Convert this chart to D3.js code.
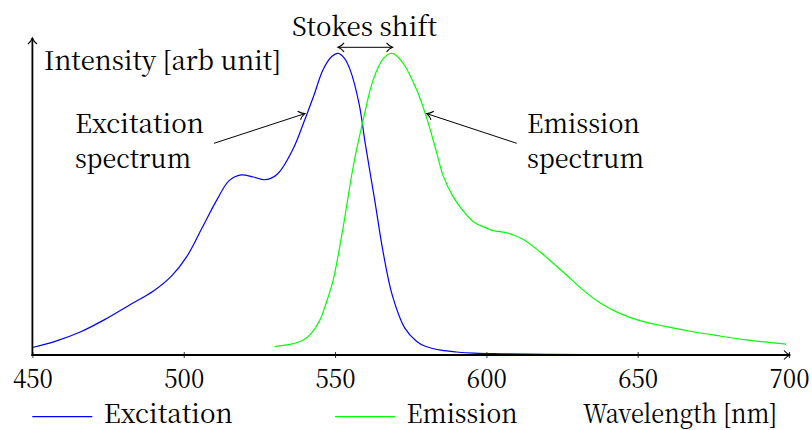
<!DOCTYPE html>
<html>
<head>
<meta charset="utf-8">
<script src="https://cdn.jsdelivr.net/npm/d3@7"></script>
<style>
  html, body { margin: 0; padding: 0; background: #fff; }
  svg { display: block; }
</style>
</head>
<body>
<svg id="chart" width="812" height="430"></svg>
<script>
// Excitation spectrum (normalised intensity vs wavelength in nm)
const excitationWl  = [450, 458, 466, 474, 482, 490, 496, 501, 506, 511, 515, 519, 523, 527, 531, 536, 540, 543, 546, 549, 551, 553, 555, 558, 560, 563, 566, 569, 573, 577, 580, 585, 590, 596, 605, 620, 650];
const excitationVal = [0.025, 0.047, 0.077, 0.118, 0.165, 0.212, 0.262, 0.326, 0.420, 0.515, 0.578, 0.597, 0.590, 0.581, 0.600, 0.680, 0.780, 0.860, 0.945, 0.990, 1.000, 0.985, 0.945, 0.830, 0.700, 0.520, 0.335, 0.195, 0.090, 0.045, 0.028, 0.016, 0.010, 0.006, 0.004, 0.002, 0.001];

// Emission spectrum
const emissionWl  = [530, 535, 539.5, 542, 545, 547, 549.4, 552.7, 556, 559.3, 562.6, 566, 569, 572.5, 577, 580.3, 583.6, 585.8, 589, 592.4, 595.7, 599, 602.3, 606.7, 612.2, 617.7, 622.1, 626.5, 632, 637.5, 644.1, 650.7, 659.5, 668.3, 677.2, 686, 699];
const emissionVal = [0.028, 0.035, 0.050, 0.070, 0.116, 0.170, 0.249, 0.425, 0.624, 0.779, 0.912, 0.983, 1.000, 0.967, 0.878, 0.785, 0.670, 0.592, 0.525, 0.477, 0.442, 0.425, 0.412, 0.405, 0.383, 0.342, 0.304, 0.265, 0.215, 0.173, 0.138, 0.114, 0.094, 0.077, 0.063, 0.050, 0.036];

const xTicks = [450, 500, 550, 600, 650, 700];
const peakExcitation = 551;
const peakEmission = 569;

const FONT = '"Noto Serif CJK SC", "Liberation Serif", serif';
const FONT_SIZE = 26;

const svg = d3.select("#chart");

const x = d3.scaleLinear().domain([450, 700]).range([32.4, 789]);
const y = d3.scaleLinear().domain([0, 1]).range([355, 53.3]);

// Open "to"-style arrow heads
const defs = svg.append("defs");
function arrowMarker(id, orient) {
  defs.append("marker")
    .attr("id", id)
    .attr("viewBox", "-8 -6 10 12")
    .attr("refX", 0).attr("refY", 0)
    .attr("markerWidth", 10).attr("markerHeight", 12)
    .attr("markerUnits", "userSpaceOnUse")
    .attr("orient", orient)
    .append("path")
    .attr("d", "M-6,-4.5 C-4,-2 -1.5,-0.6 0,0 C-1.5,0.6 -4,2 -6,4.5")
    .attr("fill", "none").attr("stroke", "#000").attr("stroke-width", 1.1);
}
arrowMarker("arr", "auto");
arrowMarker("arrStart", "auto-start-reverse");

// Text helper: serif label at a fixed rendered width
function label(xp, yp, str, w) {
  return svg.append("text")
    .attr("x", xp).attr("y", yp)
    .style("font-family", FONT).style("font-size", FONT_SIZE + "px").style("fill", "#000")
    .attr("textLength", w).attr("lengthAdjust", "spacingAndGlyphs")
    .text(str);
}

// Curves
const line = d3.line().x(d => x(d[0])).y(d => y(d[1])).curve(d3.curveCatmullRom.alpha(0.5));
svg.append("path")
  .datum(excitationWl.map((w, i) => [w, excitationVal[i]]))
  .attr("d", line).attr("fill", "none").attr("stroke", "#0000ff").attr("stroke-width", 1.2);
svg.append("path")
  .datum(emissionWl.map((w, i) => [w, emissionVal[i]]))
  .attr("d", line).attr("fill", "none").attr("stroke", "#00ff00").attr("stroke-width", 1.2);

// x axis
const xAxis = svg.append("g")
  .attr("transform", `translate(0,${y(0)})`)
  .call(d3.axisBottom(x).tickValues(xTicks).tickSize(3).tickFormat(d3.format("d")));
xAxis.select(".domain").remove();
xAxis.selectAll(".tick line").attr("y1", -3).attr("y2", 3).attr("stroke", "#000").attr("stroke-width", 0.8);
xAxis.selectAll(".tick text")
  .style("font-family", FONT).style("font-size", FONT_SIZE + "px").style("fill", "#000")
  .attr("dy", null).attr("y", 33)
  .attr("textLength", 40).attr("lengthAdjust", "spacingAndGlyphs");

svg.append("line")
  .attr("x1", x(450) - 1).attr("x2", x(700) + 1)
  .attr("y1", y(0)).attr("y2", y(0))
  .attr("stroke", "#000").attr("stroke-width", 1.8)
  .attr("marker-end", "url(#arr)");

// y axis
svg.append("line")
  .attr("x1", x(450)).attr("x2", x(450))
  .attr("y1", y(0) + 1).attr("y2", 38)
  .attr("stroke", "#000").attr("stroke-width", 1.8)
  .attr("marker-end", "url(#arr)");

// Axis labels
label(44, 70, "Intensity [arb unit]", 237);
label(583, 423, "Wavelength [nm]", 194);

// Stokes shift
svg.append("line")
  .attr("x1", x(peakExcitation)).attr("x2", x(peakEmission))
  .attr("y1", 47.3).attr("y2", 47.3)
  .attr("stroke", "#000").attr("stroke-width", 1)
  .attr("marker-start", "url(#arrStart)").attr("marker-end", "url(#arr)");
label(292, 36, "Stokes shift", 145);

// Spectrum annotations
label(75, 133, "Excitation", 129);
label(75, 168, "spectrum", 116);
svg.append("line").attr("x1", 214).attr("y1", 143.3).attr("x2", x(540)).attr("y2", y(0.80))
  .attr("stroke", "#000").attr("stroke-width", 1).attr("marker-end", "url(#arr)");

label(527, 133, "Emission", 113);
label(527, 168, "spectrum", 117);
svg.append("line").attr("x1", 516.7).attr("y1", 143.3).attr("x2", x(580.3)).attr("y2", y(0.80))
  .attr("stroke", "#000").attr("stroke-width", 1).attr("marker-end", "url(#arr)");

// Legend
const legendItems = [
  { name: "Excitation", color: "#0000ff", x0: 32.3, w: 129 },
  { name: "Emission", color: "#00ff00", x0: 335, w: 111 }
];
legendItems.forEach(d => {
  svg.append("line")
    .attr("x1", d.x0).attr("x2", d.x0 + 60)
    .attr("y1", 416.7).attr("y2", 416.7)
    .attr("stroke", d.color).attr("stroke-width", 1.2);
  label(d.x0 + 71.5, 423, d.name, d.w);
});
</script>
</body>
</html>
